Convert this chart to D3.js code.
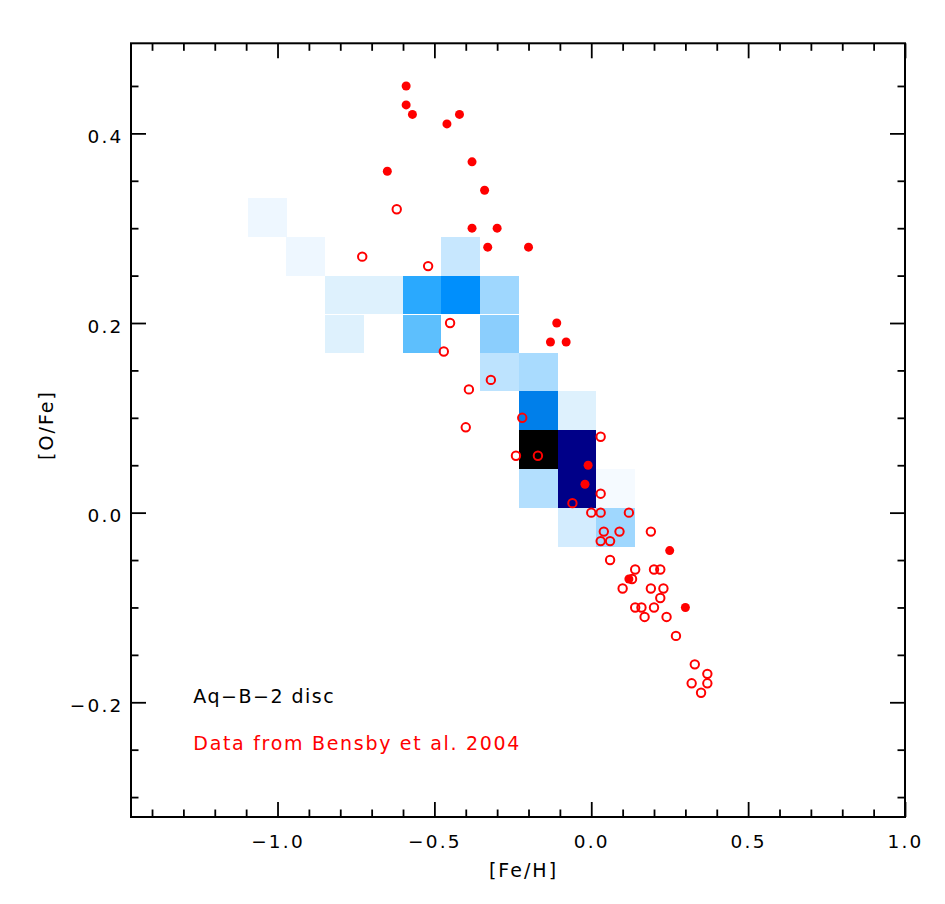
<!DOCTYPE html>
<html>
<head>
<meta charset="utf-8">
<script src="https://cdn.jsdelivr.net/npm/d3@7"></script>
<style>
  html, body { margin: 0; padding: 0; background: #ffffff; }
  svg { display: block; }
  text { font-family: "DejaVu Sans", sans-serif; }
</style>
</head>
<body>
<svg id="chart" width="945" height="904"></svg>
<script>
// ---------------- data ----------------
// Simulated disc (Aq-B-2): 2D histogram cells, lower-left bin corners + relative counts
const binWidthFe = 0.1234;
const binWidthOFe = 0.0408;
const cellFe  = [-1.094, -0.972, -0.848, -0.724, -0.601, -0.478, -0.355, -0.478, -0.848, -0.601, -0.355, -0.355, -0.230, -0.230, -0.107, -0.230, -0.107, -0.230, -0.107, 0.016, -0.107, 0.016];
const cellOFe = [ 0.291,  0.250,  0.209,  0.209,  0.209,  0.209,  0.209,  0.250,  0.168,  0.168,  0.168,  0.128,  0.128,  0.087,  0.087,  0.046,  0.046,  0.005,  0.005, 0.005, -0.036, -0.036];
const cellCount = [1, 1, 2, 2, 18, 22, 8, 4, 2, 14, 10, 5, 7, 25, 2, 50, 40, 6, 40, 0.6, 3, 8];

// Bensby et al. 2004 stars: filled symbols
const filledFe  = [-0.59, -0.59, -0.57, -0.46, -0.42, -0.38, -0.65, -0.34, -0.38, -0.30, -0.33, -0.20, -0.11, -0.13, -0.08, -0.01, -0.02, 0.25, 0.12, 0.30];
const filledOFe = [ 0.45,  0.43,  0.42,  0.41,  0.42,  0.37,  0.36,  0.34,  0.30,  0.30,  0.28,  0.28,  0.20,  0.18,  0.18,  0.05,  0.03, -0.04, -0.07, -0.10];
// open symbols
const openFe  = [-0.62, -0.73, -0.52, -0.45, -0.47, -0.32, -0.39, -0.40, -0.22, -0.24, -0.17, 0.03, 0.03, -0.06, 0.00, 0.03, 0.12, 0.04, 0.09, 0.19, 0.03, 0.06, 0.06, 0.14, 0.20, 0.22, 0.13, 0.10, 0.19, 0.23, 0.22, 0.14, 0.16, 0.20, 0.17, 0.24, 0.27, 0.33, 0.37, 0.32, 0.37, 0.35];
const openOFe = [ 0.32,  0.27,  0.26,  0.20,  0.17,  0.14,  0.13,  0.09,  0.10,  0.06,  0.06, 0.08, 0.02,  0.01, 0.00, 0.00, 0.00, -0.02, -0.02, -0.02, -0.03, -0.03, -0.05, -0.06, -0.06, -0.06, -0.07, -0.08, -0.08, -0.08, -0.09, -0.10, -0.10, -0.10, -0.11, -0.11, -0.13, -0.16, -0.17, -0.18, -0.18, -0.19];

// axes
const xDomain = [-1.467, 1.0];
const yDomain = [-0.321, 0.495];
const xMajorTicks = [-1.0, -0.5, 0.0, 0.5, 1.0];
const yMajorTicks = [-0.2, 0.0, 0.2, 0.4];
const xLabel = "[Fe/H]";
const yLabel = "[O/Fe]";
const modelLabel = "Aq\u2212B\u22122 disc";
const dataLabel = "Data from Bensby et al. 2004";

// colour map levels for the histogram
const shadeLevels = [0, 1, 2, 4, 7, 10, 14, 18, 22, 25, 40, 50];
const shadeColors = ["#ffffff", "#eef7ff", "#def1fd", "#c7e7fe", "#a9dbfe", "#8bcefd", "#5dbffd", "#2aa9fe", "#008ffc", "#007fea", "#000088", "#000000"];

// ---------------- drawing ----------------
const svg = d3.select("#chart");
const L = 131, R = 905, T = 43.3, B = 817;

const x = d3.scaleLinear().domain(xDomain).range([L, R]);
const y = d3.scaleLinear().domain(yDomain).range([B, T]);
const shade = d3.scaleLinear().domain(shadeLevels).range(shadeColors).clamp(true);

const fmt = d => (d < 0 ? "\u2212" : "") + d3.format(".1f")(Math.abs(d));

// histogram cells
const cells = cellFe.map((fe, i) => ({ fe, ofe: cellOFe[i], n: cellCount[i] }));
svg.append("g").selectAll("rect").data(cells).join("rect")
  .attr("x", d => x(d.fe))
  .attr("y", d => y(d.ofe + binWidthOFe))
  .attr("width", d => x(d.fe + binWidthFe) - x(d.fe))
  .attr("height", d => y(d.ofe) - y(d.ofe + binWidthOFe))
  .attr("fill", d => shade(d.n))
  .attr("shape-rendering", "crispEdges");

// axes with inward ticks
const minorX = d3.range(-14, 11).map(k => k / 10).filter(v => !xMajorTicks.some(m => Math.abs(m - v) < 1e-9));
const minorY = d3.range(-6, 10).map(k => k / 20).filter(v => !yMajorTicks.some(m => Math.abs(m - v) < 1e-9));

function styleAxis(g) {
  g.select(".domain").remove();
  g.selectAll(".tick line").attr("stroke", "#000").attr("stroke-width", 1.8);
  g.selectAll("text").attr("fill", "#000").attr("font-size", 18.5).style("letter-spacing", "2.2px");
}

svg.append("g").attr("transform", `translate(0,${B})`)
  .call(d3.axisBottom(x).tickValues(xMajorTicks).tickSizeInner(-15).tickSizeOuter(0).tickPadding(18).tickFormat(fmt))
  .call(styleAxis);
svg.append("g").attr("transform", `translate(0,${B})`)
  .call(d3.axisBottom(x).tickValues(minorX).tickSizeInner(-7.5).tickSizeOuter(0).tickFormat(""))
  .call(styleAxis);
svg.append("g").attr("transform", `translate(0,${T})`)
  .call(d3.axisTop(x).tickValues(xMajorTicks).tickSizeInner(-15).tickSizeOuter(0).tickFormat(""))
  .call(styleAxis);
svg.append("g").attr("transform", `translate(0,${T})`)
  .call(d3.axisTop(x).tickValues(minorX).tickSizeInner(-7.5).tickSizeOuter(0).tickFormat(""))
  .call(styleAxis);

svg.append("g").attr("transform", `translate(${L},0)`)
  .call(d3.axisLeft(y).tickValues(yMajorTicks).tickSizeInner(-15).tickSizeOuter(0).tickPadding(7.5).tickFormat(fmt))
  .call(styleAxis)
  .call(g => g.selectAll("text").attr("dy", "0.5em"));
svg.append("g").attr("transform", `translate(${L},0)`)
  .call(d3.axisLeft(y).tickValues(minorY).tickSizeInner(-7.5).tickSizeOuter(0).tickFormat(""))
  .call(styleAxis);
svg.append("g").attr("transform", `translate(${R},0)`)
  .call(d3.axisRight(y).tickValues(yMajorTicks).tickSizeInner(-15).tickSizeOuter(0).tickFormat(""))
  .call(styleAxis);
svg.append("g").attr("transform", `translate(${R},0)`)
  .call(d3.axisRight(y).tickValues(minorY).tickSizeInner(-7.5).tickSizeOuter(0).tickFormat(""))
  .call(styleAxis);

// frame
svg.append("rect")
  .attr("x", L).attr("y", T).attr("width", R - L).attr("height", B - T)
  .attr("fill", "none").attr("stroke", "#000").attr("stroke-width", 2);

// observational data
const openPts = openFe.map((fe, i) => ({ fe, ofe: openOFe[i] }));
const filledPts = filledFe.map((fe, i) => ({ fe, ofe: filledOFe[i] }));

svg.append("g").selectAll("circle").data(openPts).join("circle")
  .attr("cx", d => x(d.fe)).attr("cy", d => y(d.ofe)).attr("r", 4.2)
  .attr("fill", "none").attr("stroke", "#ff0000").attr("stroke-width", 2);
svg.append("g").selectAll("circle").data(filledPts).join("circle")
  .attr("cx", d => x(d.fe)).attr("cy", d => y(d.ofe)).attr("r", 4.5)
  .attr("fill", "#ff0000");

// axis titles
svg.append("text").attr("x", 523.5).attr("y", 877).attr("text-anchor", "middle")
  .attr("font-size", 19).style("letter-spacing", "2px").text(xLabel);
svg.append("text").attr("transform", "translate(53,425) rotate(-90)").attr("text-anchor", "middle")
  .attr("font-size", 19).style("letter-spacing", "2px").text(yLabel);

// annotations
svg.append("text").attr("x", 193.3).attr("y", 703.3).attr("font-size", 19)
  .style("letter-spacing", "1.5px").attr("fill", "#000").text(modelLabel);
svg.append("text").attr("x", 193.3).attr("y", 750).attr("font-size", 19)
  .style("letter-spacing", "1.7px").attr("fill", "#ff0000").text(dataLabel);
</script>
</body>
</html>
